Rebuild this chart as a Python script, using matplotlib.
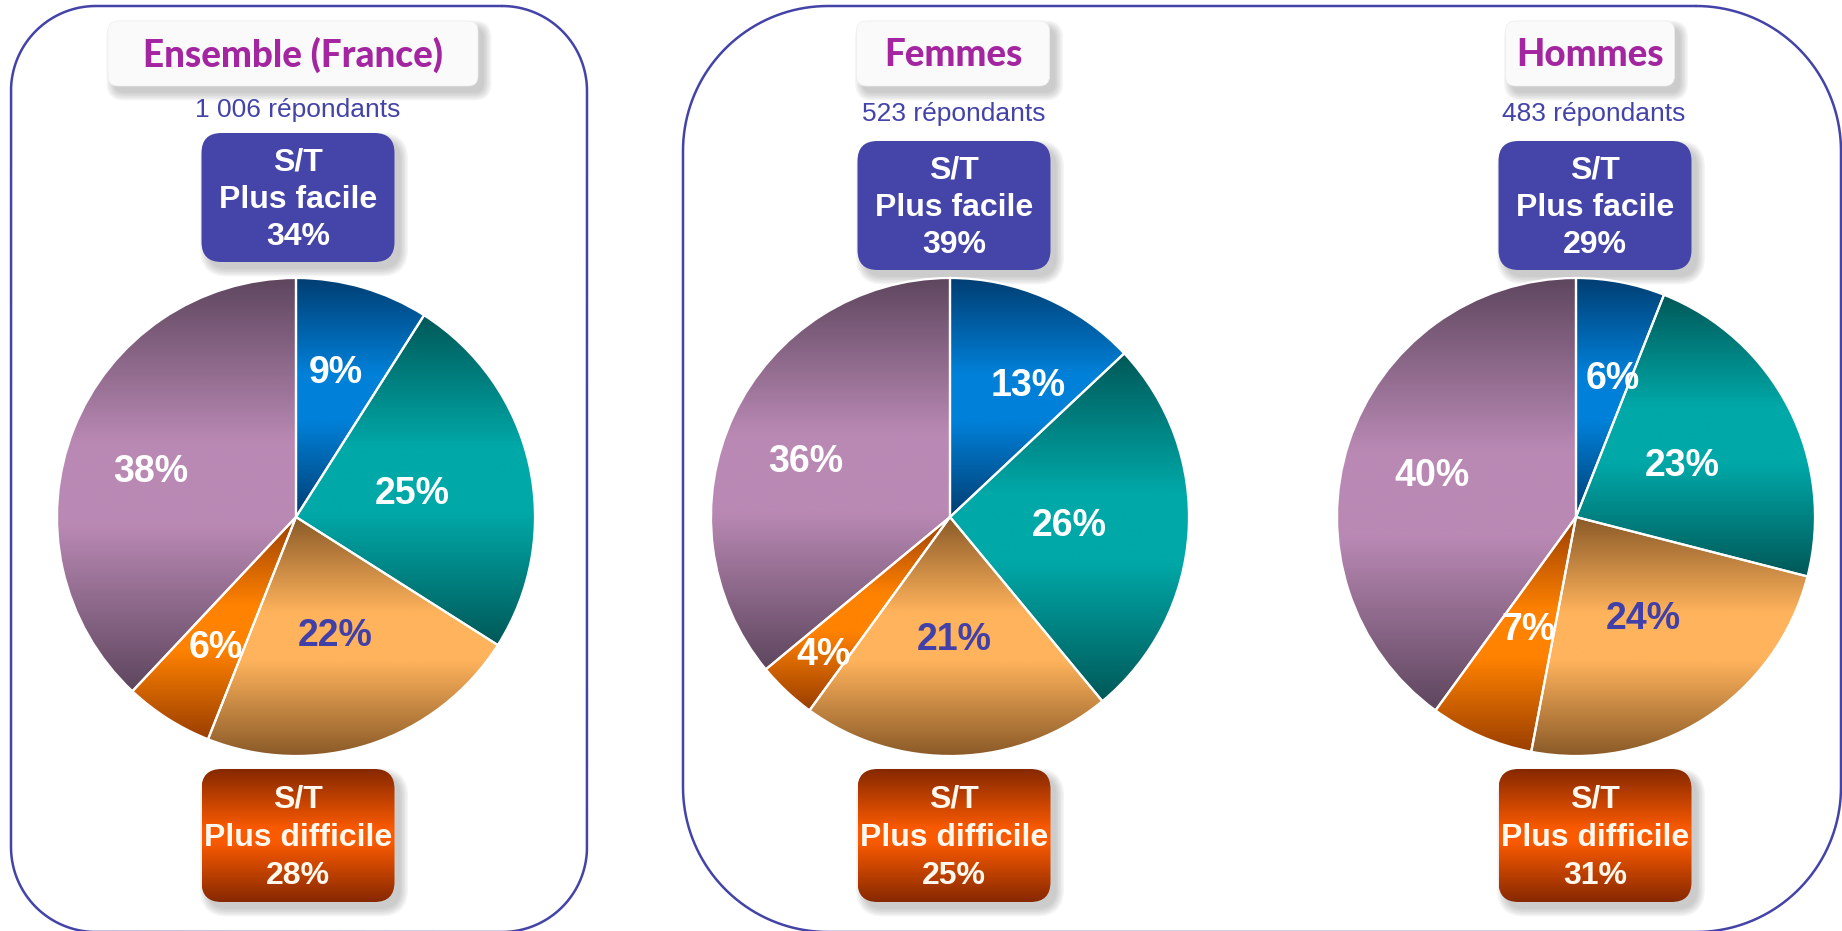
import numpy as np
import matplotlib
matplotlib.use("Agg")
import matplotlib.pyplot as plt
from matplotlib.patches import FancyBboxPatch
from matplotlib.colors import LinearSegmentedColormap

# Data (clockwise from 12 o'clock)
titles = ["Ensemble (France)", "Femmes", "Hommes"]
respondents = ["1 006 répondants", "523 répondants", "483 répondants"]
ensemble = [9, 25, 22, 6, 38]
femmes = [13, 26, 21, 4, 36]
hommes = [6, 23, 24, 7, 40]
st_facile = [34, 39, 29]
st_difficile = [28, 25, 31]

# Percentage labels: radial fraction and small turn (deg, counterclockwise) from the mid-angle
label_dist = [[0.64, 0.50, 0.51, 0.63, 0.64],
              [0.65, 0.50, 0.50, 0.77, 0.65],
              [0.61, 0.50, 0.50, 0.50, 0.63]]
label_turn = [[1, 0, 1, 0, 3],
              [-7, 1, 0, 0, 3],
              [-4, 0, 2, 0, 1]]

# Slice gradients: (dark edge, light middle)
slice_colors = [("#003E72", "#0080D8"),
                ("#005858", "#00A8A8"),
                ("#8A5A28", "#FFB35C"),
                ("#9A3E00", "#FF8200"),
                ("#5E465E", "#B989B4")]
label_colors = ["white", "white", "#4040A8", "white", "white"]

W, H = 1842, 931
BLUE = "#4343A8"
MAGENTA = "#A3259F"

# Layout in pixels (y measured from the top)
pie_cx = [296, 950, 1576]
pie_cy = 517
pie_r = 239
title_cx = [293, 953, 1590]
title_w = [370, 193, 169]
resp_cx = [298, 954, 1594]
resp_y = [110, 114, 114]
box_cx = [298, 954, 1595]
box_w = 193
facile_top = [133, 141, 141]
facile_h = 129
difficile_top = 769
difficile_h = 133


def rounded_outline(ax, x0, y0, x1, y1, r):
    # rounded rectangle drawn as a polyline with circular corners
    t = np.linspace(0, np.pi / 2, 40)
    xs, ys = [], []
    corners = [(x1 - r, y0 + r, -np.pi / 2), (x1 - r, y1 - r, 0),
               (x0 + r, y1 - r, np.pi / 2), (x0 + r, y0 + r, np.pi)]
    for cx, cy, a0 in corners:
        xs += list(cx + r * np.cos(a0 + t))
        ys += list(cy + r * np.sin(a0 + t))
    xs.append(xs[0])
    ys.append(ys[0])
    ax.plot(xs, ys, color=BLUE, lw=1.8, solid_capstyle="round", zorder=1)


def shadow(ax, x, y, w, h, rs, dx=6, dy=7):
    # soft grey shadow made of a few translucent layers
    for k in range(6):
        p = 1.5 * k
        ax.add_patch(FancyBboxPatch((x + dx - p, y + dy - p), w + 2 * p, h + 2 * p,
                                    boxstyle=f"round,pad=0,rounding_size={rs + p}",
                                    fc="#777777", ec="none", alpha=0.07, zorder=1))


def gradient_fill(ax, patch, x0, x1, y0, y1, dark, light, stops=(0, 0.4, 0.6, 1), zorder=2):
    cmap = LinearSegmentedColormap.from_list(
        "g", list(zip(stops, [dark, light, light, dark])))
    grad = np.linspace(0, 1, 256).reshape(-1, 1)
    im = ax.imshow(grad, cmap=cmap, extent=(x0, x1, y1, y0), origin="upper",
                   aspect="auto", interpolation="bicubic", zorder=zorder)
    im.set_clip_path(patch)


def caps_text(ax, x, y, s, size, **kw):
    # centre the capitals (not the descender box) on y
    ax.text(x, y + 0.716 * size * 100 / 72 / 2, s, ha="center", va="baseline",
            fontsize=size, **kw)


fig = plt.figure(figsize=(W / 100, H / 100), dpi=100)
ax = fig.add_axes([0, 0, 1, 1])

# Panel outlines
rounded_outline(ax, 11, 6, 587, 932, 85)
rounded_outline(ax, 683, 6, 1841, 932, 145)

for i, values in enumerate([ensemble, femmes, hommes]):
    cx = pie_cx[i]

    # Title box
    tx0 = title_cx[i] - title_w[i] / 2
    shadow(ax, tx0, 21, title_w[i], 65, 10)
    ax.add_patch(FancyBboxPatch((tx0, 21), title_w[i], 65, boxstyle="round,pad=0,rounding_size=10",
                                fc="#FAFAFA", ec="#EEEEEE", lw=0.5, zorder=2))
    ax.text(title_cx[i], 55, titles[i], ha="center", va="center", color=MAGENTA,
            fontsize=26.5, fontweight="black", family="Lato", zorder=3)

    # Respondents
    ax.text(resp_cx[i], resp_y[i], respondents[i], ha="center", va="center",
            color=BLUE, fontsize=19, family="Liberation Sans", zorder=3)

    # S/T Plus facile box
    bx0 = box_cx[i] - box_w / 2
    shadow(ax, bx0, facile_top[i], box_w, facile_h, 20)
    ax.add_patch(FancyBboxPatch((bx0, facile_top[i]), box_w, facile_h,
                                boxstyle="round,pad=0,rounding_size=20",
                                fc="#4545A9", ec="none", zorder=2))
    for frac, line in zip([0.20, 0.49, 0.78], ["S/T", "Plus facile", f"{st_facile[i]}%"]):
        caps_text(ax, box_cx[i], facile_top[i] + frac * facile_h, line, 23,
                  color="white", fontweight="bold", family="Liberation Sans", zorder=3)

    # S/T Plus difficile box
    shadow(ax, bx0, difficile_top, box_w, difficile_h, 20)
    obox = FancyBboxPatch((bx0, difficile_top), box_w, difficile_h,
                          boxstyle="round,pad=0,rounding_size=20",
                          fc="none", ec="none", zorder=2)
    ax.add_patch(obox)
    gradient_fill(ax, obox, bx0, bx0 + box_w, difficile_top, difficile_top + difficile_h,
                  "#862800", "#FA5A00", stops=(0, 0.45, 0.55, 1))
    for frac, line in zip([0.20, 0.49, 0.78], ["S/T", "Plus difficile", f"{st_difficile[i]}%"]):
        caps_text(ax, box_cx[i], difficile_top + frac * difficile_h, line, 23,
                  color="#FFF8EE", fontweight="bold", family="Liberation Sans", zorder=3)

    # Pie (y axis is inverted, so counterclock here is clockwise on screen)
    wedges, _ = ax.pie(values, center=(cx, pie_cy), radius=pie_r, startangle=270,
                       counterclock=True, wedgeprops=dict(ec="white", lw=1.6))
    for j, w in enumerate(wedges):
        ext = w.get_path().get_extents()
        gradient_fill(ax, w, ext.x0, ext.x1, ext.y0, ext.y1, *slice_colors[j])
        w.set_facecolor("none")
        w.set_zorder(3)
        # screen angle (counterclockwise, y up) of the label
        ang = np.deg2rad(-(w.theta1 + w.theta2) / 2 + label_turn[i][j])
        d = label_dist[i][j] * pie_r
        caps_text(ax, cx + d * np.cos(ang), pie_cy - d * np.sin(ang), f"{values[j]}%", 27,
                  color=label_colors[j], fontweight="bold", family="Liberation Sans", zorder=4)

ax.set_xlim(0, W)
ax.set_ylim(H, 0)
ax.set_aspect("auto")
ax.axis("off")

fig.savefig("out.png", dpi=100)
